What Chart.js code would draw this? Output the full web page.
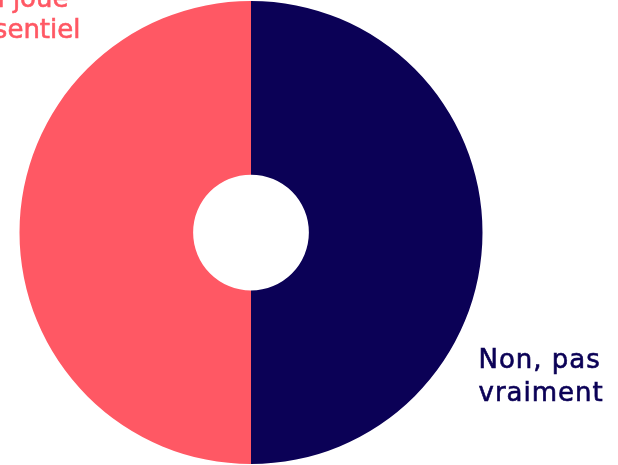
<!DOCTYPE html>
<html>
<head>
<meta charset="utf-8">
<script src="https://cdn.jsdelivr.net/npm/chart.js@4"></script>
<style>
  html, body { margin: 0; padding: 0; background: #fff; }
  #wrap { width: 618px; height: 465px; }
</style>
</head>
<body>
<div id="wrap"><canvas id="donut"></canvas></div>
<script>
const labels = ['Oui, ça joue un rôle essentiel', 'Non, pas vraiment'];
const labelLines = [['Oui, ça joue', 'un rôle essentiel'], ['Non, pas', 'vraiment']];
const values = [50, 50];
const colors = ['#FF5864', '#0B0156'];

// draws the two slice captions outside the ring
const captionPlugin = {
    id: 'captions',
    afterDraw(chart) {
        const arc = chart.getDatasetMeta(0).data[0];
        if (!arc) return;
        const cx = arc.x, cy = arc.y, r = arc.outerRadius;
        const ctx = chart.ctx;
        ctx.save();
        ctx.font = '26px "DejaVu Sans", sans-serif';
        ctx.textBaseline = 'alphabetic';
        ctx.lineWidth = 0.6;

        const line = (txt, x, y) => {
            ctx.fillText(txt, x, y);
            ctx.strokeText(txt, x, y);
        };

        // left slice caption, top-left, partly cut by the edge
        ctx.fillStyle = ctx.strokeStyle = colors[0];
        ctx.textAlign = 'right';
        line(labelLines[0][0], cx - r + 49, cy - r + 6);
        line(labelLines[0][1], cx - r + 61, cy - r + 37);

        // right slice caption, bottom-right
        ctx.letterSpacing = '1px';
        ctx.fillStyle = ctx.strokeStyle = colors[1];
        ctx.textAlign = 'left';
        line(labelLines[1][0], cx + r - 4, cy + r - 96);
        line(labelLines[1][1], cx + r - 4, cy + r - 63);
        ctx.restore();
    }
};

new Chart(document.getElementById('donut').getContext('2d'), {
    type: 'doughnut',
    data: {
        labels: labels,
        datasets: [{
            data: values,
            backgroundColor: colors,
            borderWidth: 0
        }]
    },
    options: {
        responsive: true,
        maintainAspectRatio: false,
        animation: false,
        rotation: 180,
        cutout: '25%',
        layout: { padding: { top: 1, bottom: 1, left: 0, right: 116 } },
        plugins: {
            legend: { display: false },
            tooltip: { enabled: false }
        }
    },
    plugins: [captionPlugin]
});
</script>
</body>
</html>
